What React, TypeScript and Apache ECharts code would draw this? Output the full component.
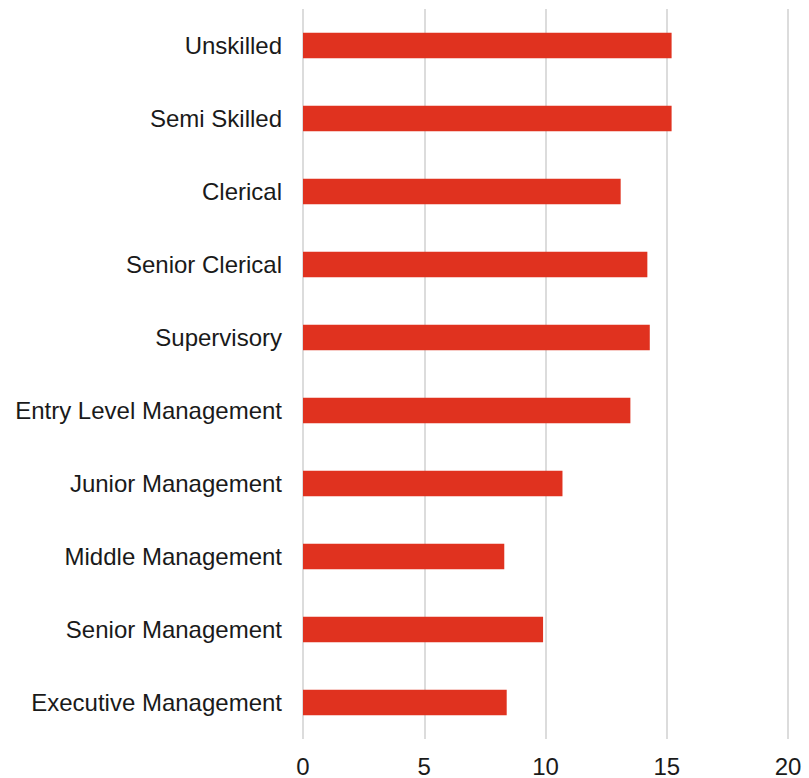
import React, { useEffect, useRef } from "react";
import * as echarts from "echarts";

const categories = [
  "Unskilled",
  "Semi Skilled",
  "Clerical",
  "Senior Clerical",
  "Supervisory",
  "Entry Level Management",
  "Junior Management",
  "Middle Management",
  "Senior Management",
  "Executive Management",
];

const values = [15.2, 15.2, 13.1, 14.2, 14.3, 13.5, 10.7, 8.3, 9.9, 8.4];

const xTicks = [0, 5, 10, 15, 20];

export default function App() {
  const ref = useRef<HTMLDivElement>(null);
  useEffect(() => {
    if (!ref.current) return;
    const chart = echarts.init(ref.current, null, { renderer: "svg" });
    chart.setOption({
      animation: false,
      grid: { left: 303, right: 21, top: 9, bottom: 37, containLabel: false },
      xAxis: {
        type: "value",
        min: xTicks[0],
        max: xTicks[xTicks.length - 1],
        interval: 5,
        axisLine: { show: false },
        axisTick: { show: false },
        splitLine: { show: true, lineStyle: { color: "#dcdcdc", width: 2 } },
        axisLabel: {
          margin: 15,
          fontSize: 24,
          color: "#1a1a1a",
          fontFamily: "'Liberation Sans', Arial, sans-serif",
        },
      },
      yAxis: {
        type: "category",
        inverse: true,
        data: categories,
        axisLine: { show: false },
        axisTick: { show: false },
        axisLabel: {
          margin: 21,
          fontSize: 24,
          color: "#1a1a1a",
          fontFamily: "'Liberation Sans', Arial, sans-serif",
        },
      },
      series: [
        {
          type: "bar",
          data: values,
          barWidth: "35%",
          itemStyle: { color: "#e0321f" },
        },
      ],
    });
    return () => chart.dispose();
  }, []);
  return <div ref={ref} style={{ width: 809, height: 778, position: "absolute", left: 0, top: 0 }} />;
}
